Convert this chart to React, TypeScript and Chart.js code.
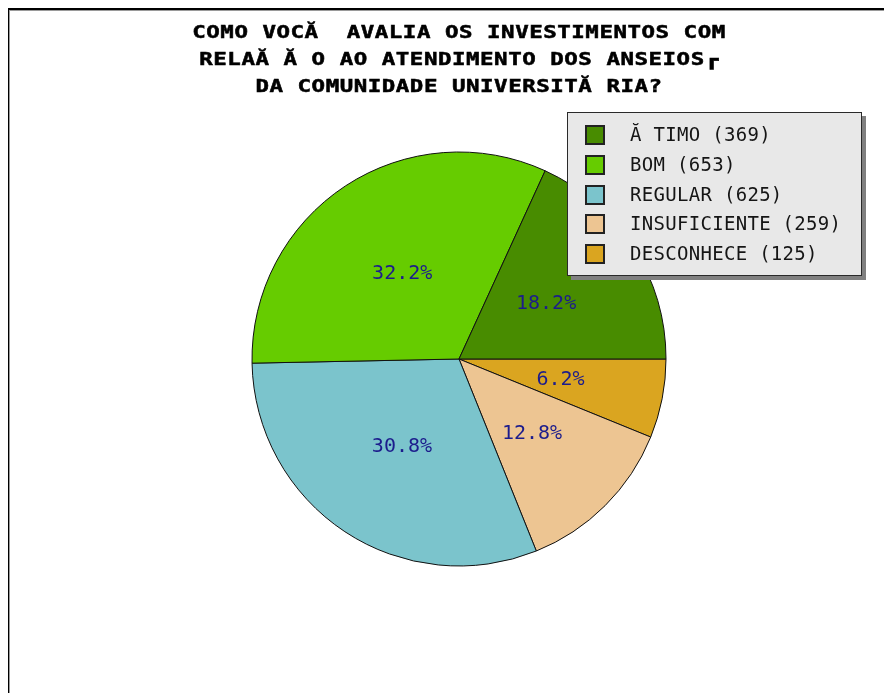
import React, { useEffect, useRef } from "react";
import { Chart, registerables } from "chart.js";

Chart.register(...registerables);

const titleLines = [
  "COMO VOCĂ  AVALIA OS INVESTIMENTOS COM",
  "RELAĂ Ă O AO ATENDIMENTO DOS ANSEIOS┏",
  "DA COMUNIDADE UNIVERSITĂ RIA?",
];
const categories = ["Ă TIMO", "BOM", "REGULAR", "INSUFICIENTE", "DESCONHECE"];
const values = [369, 653, 625, 259, 125];
const colors = ["#488c00", "#66cc00", "#7bc4cc", "#edc592", "#daa520"];

const W = 885;
const H = 685;

const total = values.reduce((a, b) => a + b, 0);
const pct = (v: number) => ((v / total) * 100).toFixed(1) + "%";

// pie is drawn clockwise from 3 o'clock, so feed the series reversed
const pieLabels = [...categories].reverse();
const pieValues = [...values].reverse();
const pieColors = [...colors].reverse();

const decor = {
  id: "decor",
  beforeDraw(chart: any) {
    const ctx = chart.ctx as CanvasRenderingContext2D;
    ctx.save();
    ctx.fillStyle = "#ffffff";
    ctx.fillRect(0, 0, W, H);
    ctx.fillStyle = "#000000";
    ctx.fillRect(0, 0, W, 2);
    ctx.fillRect(0, 0, 2, H);
    ctx.fillStyle = "#9a9a9a";
    ctx.fillRect(2, 2, W - 2, 1);
    ctx.fillRect(2, 2, 1, H - 2);
    ctx.restore();
  },
  afterDatasetsDraw(chart: any) {
    const ctx = chart.ctx as CanvasRenderingContext2D;
    const meta = chart.getDatasetMeta(0);
    ctx.save();
    ctx.font = "20px 'DejaVu Sans Mono'";
    ctx.fillStyle = "#1c1c8c";
    ctx.textAlign = "center";
    ctx.textBaseline = "middle";
    meta.data.forEach((arc: any, i: number) => {
      const p = arc.tooltipPosition();
      ctx.fillText(pct(pieValues[i]), p.x, p.y + 1);
    });
    ctx.restore();
  },
  afterDraw(chart: any) {
    const ctx = chart.ctx as CanvasRenderingContext2D;
    // title
    ctx.save();
    ctx.font = "bold 17px 'DejaVu Sans Mono'";
    ctx.fillStyle = "#000000";
    ctx.textAlign = "center";
    ctx.textBaseline = "middle";
    const ys = [26, 53, 80];
    titleLines.forEach((line, i) => {
      ctx.save();
      ctx.translate(452, ys[i]);
      ctx.scale(1.32, 1);
      (ctx as any).letterSpacing = "0.4px";
      ctx.fillText(line, 0, 0);
      ctx.lineWidth = 0.5;
      ctx.strokeStyle = "#000000";
      ctx.strokeText(line, 0, 0);
      ctx.restore();
    });
    ctx.restore();

    // legend
    const bx = 560, by = 104, bw = 295, bh = 164;
    ctx.save();
    ctx.fillStyle = "#808080";
    ctx.fillRect(bx + 4, by + 4, bw, bh);
    ctx.fillStyle = "#e8e8e8";
    ctx.fillRect(bx, by, bw, bh);
    ctx.strokeStyle = "#2a2a2a";
    ctx.lineWidth = 1;
    ctx.strokeRect(bx + 0.5, by + 0.5, bw - 1, bh - 1);
    ctx.font = "19px 'DejaVu Sans Mono'";
    (ctx as any).letterSpacing = "0.3px";
    ctx.textAlign = "left";
    ctx.textBaseline = "middle";
    categories.forEach((c, i) => {
      const cy = 127.3 + i * 29.7;
      ctx.fillStyle = colors[i];
      ctx.fillRect(578, Math.round(cy - 10), 20, 20);
      ctx.strokeStyle = "#222222";
      ctx.lineWidth = 2;
      ctx.strokeRect(579, Math.round(cy - 10) + 1, 18, 18);
      ctx.fillStyle = "#151515";
      ctx.fillText(`${c} (${values[i]})`, 623, cy + 1);
    });
    ctx.restore();
  },
};

export default function App() {
  const ref = useRef<HTMLCanvasElement | null>(null);
  useEffect(() => {
    if (!ref.current) return;
    const chart = new Chart(ref.current, {
      type: "pie",
      data: {
        labels: pieLabels,
        datasets: [
          {
            data: pieValues,
            backgroundColor: pieColors,
            borderColor: "#111111",
            borderWidth: 1,
          },
        ],
      },
      options: {
        animation: false,
        responsive: false,
        devicePixelRatio: 1,
        events: [],
        rotation: 90,
        radius: 207,
        layout: { padding: { left: 19, right: 0, top: 140, bottom: 123 } },
        plugins: {
          legend: { display: false },
          title: { display: false },
          tooltip: { enabled: false },
        },
      } as any,
      plugins: [decor],
    });
    return () => chart.destroy();
  }, []);
  return (
    <div style={{ marginLeft: -1 }}>
      <canvas ref={ref} width={W} height={H} style={{ display: "block" }} />
    </div>
  );
}
